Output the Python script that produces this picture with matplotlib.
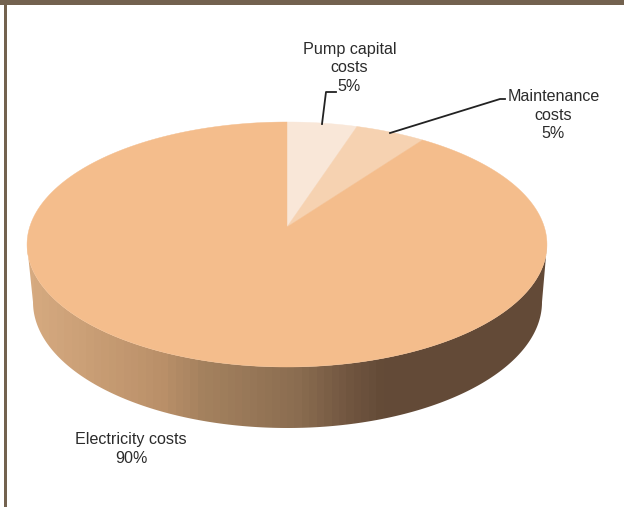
import numpy as np
import matplotlib
matplotlib.use("Agg")
import matplotlib.pyplot as plt
from matplotlib.colors import LinearSegmentedColormap
from matplotlib.patches import Polygon, Rectangle

plt.rcParams['font.family'] = ['Liberation Sans', 'DejaVu Sans']

# share of lifetime costs, clockwise from 12 o'clock
categories = ['Pump capital\ncosts\n5%', 'Maintenance\ncosts\n5%', 'Electricity costs\n90%']
shares = [5, 5, 90]
slice_colors = ['#f9e7d8', '#f6d2b1', '#f4bd8c']

# shading along the rim, left to right
rim_stops = [0.0, 0.256, 0.333, 0.525, 0.62, 0.69, 1.0]
rim_colors = ['#d6aa80', '#ba9069', '#a5825f', '#8a6c50', '#715640', '#634a37', '#634a37']

border_color = '#73624f'
text_color = '#2b2b2b'

# tilted disc: screen position of the apex and the perspective strength
apex_x, apex_y = 287, 227
scale_x, scale_y = 257.3, 120
persp = 1 / 7


def project(theta):
    # theta in radians, clockwise from the top of the disc
    w = 1 + persp * np.cos(theta)
    return apex_x + scale_x * np.sin(theta) / w, apex_y - scale_y * np.cos(theta) / w


def wedge_points(start, end):
    theta = np.linspace(start, end, 300)
    x, y = project(theta)
    return np.column_stack([np.r_[apex_x, x], np.r_[apex_y, y]])


fig = plt.figure(figsize=(6.24, 5.07), dpi=100)
ax = fig.add_axes([0, 0, 1, 1])

# rim: lower half of the top face joined to the lower half of a smaller base ellipse
t = np.linspace(np.pi, 0, 300)
top_cx, top_cy, top_rx, top_ry = 287, 244.5, 260, 122.5
base_cx, base_cy, base_rx, base_ry = 287.5, 302, 254.5, 126
upper = np.column_stack([top_cx + top_rx * np.cos(t), top_cy + top_ry * np.sin(t)])
lower = np.column_stack([base_cx + base_rx * np.cos(t), base_cy + base_ry * np.sin(t)])
rim_poly = Polygon(np.vstack([upper, lower[::-1]]), closed=True, fc='none', ec='none')
ax.add_patch(rim_poly)

rim_cmap = LinearSegmentedColormap.from_list('rim', list(zip(rim_stops, rim_colors)))
bands = np.linspace(0, 1, 70)[None, :]
grad = ax.imshow(bands, cmap=rim_cmap, vmin=0, vmax=1, aspect='auto',
                 extent=(27, 547, 430, 240), interpolation='nearest', zorder=1)
grad.set_clip_path(rim_poly)

# top face
angles = np.radians(np.r_[0, np.cumsum(shares)] * 3.6)
for i in range(len(shares)):
    ax.add_patch(Polygon(wedge_points(angles[i], angles[i + 1]), closed=True,
                         fc=slice_colors[i], ec=slice_colors[i], lw=0.3, zorder=2))

# leader lines
ax.plot([322, 326, 336], [124, 92, 92], color='#222222', lw=1.3, zorder=3)
ax.plot([390, 500, 505], [133, 99, 99], color='#222222', lw=1.3, zorder=3)

# labels
label_pos = [(349.5, 68), (553.5, 115), (131, 449)]
for name, (lx, ly) in zip(categories, label_pos):
    ax.text(lx, ly, name, ha='center', va='center', fontsize=11.6,
            color=text_color, linespacing=1.32, zorder=4)

# page frame
ax.add_patch(Rectangle((0, 0), 624, 5, fc=border_color, ec='none', zorder=5))
ax.add_patch(Rectangle((4, 0), 3, 507, fc=border_color, ec='none', zorder=5))

ax.set_xlim(0, 624)
ax.set_ylim(507, 0)
ax.axis('off')

fig.savefig('out.png', dpi=100, facecolor='white')
